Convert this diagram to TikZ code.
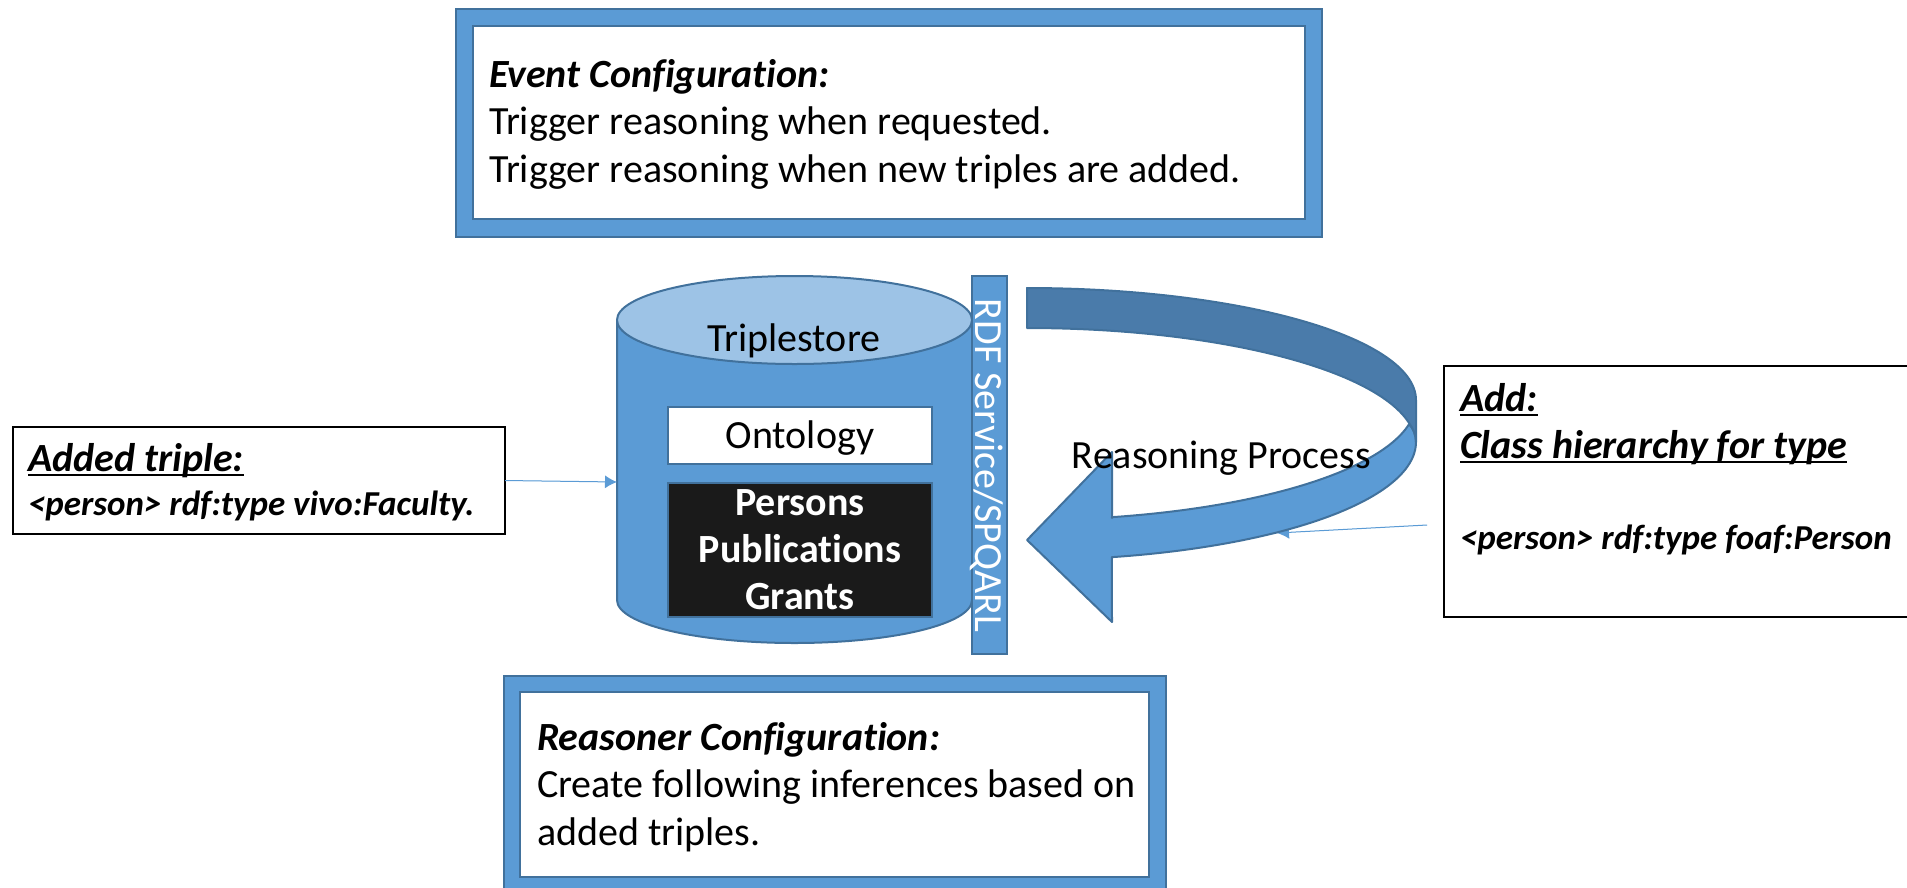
\documentclass[tikz,border=0pt]{standalone}
\usepackage{fontspec}
\setmainfont{Carlito}[Ligatures=NoCommon]
\usetikzlibrary{arrows.meta}
\definecolor{blueF}{HTML}{5B9BD5}
\definecolor{blueS}{HTML}{41719C}
\definecolor{blueL}{HTML}{9DC3E6}
\definecolor{blueD}{HTML}{4A7BAA}
\definecolor{nearblack}{HTML}{1A1A1A}
\newcommand\myul[1]{\setbox0\hbox{#1}\rlap{\rule[-5pt]{\wd0}{2.5pt}}\box0}
\newcommand\bodyfont{\fontsize{40}{47.5}\selectfont}
\newcommand\headfont{\fontsize{40}{47.5}\selectfont\bfseries\itshape}
\newcommand\smallfont{\fontsize{35}{42}\selectfont\bfseries\itshape}
\tikzset{
  x=1pt,y=-1pt,
  panel/.style={draw=blueS,line width=2pt,fill=blueF,inner sep=0pt,outer sep=0pt},
  pane/.style={draw=blueS,line width=2pt,fill=white,inner sep=0pt,outer sep=0pt},
  notebox/.style={draw=black,line width=2pt,fill=white,inner sep=0pt,outer sep=0pt},
  txt/.style={inner sep=0pt,outer sep=0pt,anchor=base west,font=\bodyfont},
  para/.style={inner sep=0pt,outer sep=0pt,anchor=north west,align=left,font=\bodyfont},
  link/.style={draw=blueF,line width=1pt,-{Latex[length=12pt,width=13pt]},fill=blueF},
  shapeline/.style={draw=blueS,line width=2pt,line join=round},
}
\begin{document}
\begin{tikzpicture}
\useasboundingbox (0,0) rectangle (1907,887);
\clip (0,0) rectangle (1907,887);

% event panel
\node[panel,minimum width=866pt,minimum height=228pt] (eventouter) at (889,122.5) {};
\node[pane,minimum width=832pt,minimum height=193pt] (eventinner) at (889,122.5) {};
\node[para] (eventtext) at (489,59) {{\bfseries\itshape Event Configuration:}\\Trigger reasoning when requested.\\Trigger reasoning when new triples are added.};

% reasoner panel
\node[panel,minimum width=662pt,minimum height=240pt] (reasonouter) at (834.5,796) {};
\node[pane,minimum width=629pt,minimum height=185pt] (reasoninner) at (834.5,784.5) {};
\node[para] (reasontext) at (537,722) {{\bfseries\itshape Reasoner Configuration:}\\Create following inferences based on\\added triples.};

% cylinder
\draw[shapeline,fill=blueF] (617,320) -- (617,600)
  .. controls (617,624) and (696,643) .. (794.5,643)
  .. controls (893,643) and (972,624) .. (972,600) -- (972,320) -- cycle;
\draw[shapeline,fill=blueL] (794.5,320) ellipse [x radius=177.5,y radius=44];
\coordinate (cylwest) at (617,482);
\node[txt,anchor=base] (triple) at (794,351) {Triplestore};
\node[pane,minimum width=264pt,minimum height=57pt] (onto) at (800,435.5) {};
\node[txt,anchor=base] (ontotext) at (800,448) {Ontology};
\node[panel,fill=nearblack,minimum width=264pt,minimum height=134pt] (data) at (800,550) {};
\node[txt,anchor=base,text=white,font=\bodyfont\bfseries] (t1) at (800,515) {Persons};
\node[txt,anchor=base,text=white,font=\bodyfont\bfseries] (t2) at (800,562) {Publications};
\node[txt,anchor=base,text=white,font=\bodyfont\bfseries] (t3) at (800,609) {Grants};

% service bar
\node[panel,minimum width=35pt,minimum height=378pt] (bar) at (989.5,465) {};
\node[txt,anchor=base,rotate=-90,text=white] (bartext) at (975,465.5) {RDF Service/SPQARL};

% added triple note
\node[notebox,minimum width=492pt,minimum height=107pt] (added) at (259,480.5) {};
\node[txt,font=\headfont] (addedh) at (28,471) {\myul{Added triple:}};
\node[txt,font=\smallfont] (addedb) at (28,515) {<person> rdf:type vivo:Faculty.};
\draw[link] (added.east) -- (cylwest);

% add note
\node[notebox,minimum width=480pt,minimum height=251pt] (addbox) at (1684,491.5) {};
\node[txt,font=\headfont] (addh) at (1460,411) {\myul{Add:}};
\node[txt,font=\headfont] (addc) at (1460,458) {\myul{Class hierarchy for type}};
\node[txt,font=\smallfont] (addb) at (1460,549) {<person> rdf:type foaf:Person};
\coordinate (addfrom) at (1427,525);
\coordinate (addto) at (1277,533);
\draw[link] (addfrom) -- (addto);

% curved arrow: lower band and head
\draw[shapeline,fill=blueF] (1409,424.3) .. controls (1413,428) and (1416,435) .. (1416,442)
  -- plot[domain=0:77.4,samples=60,variable=\t] ({1027+389*cos(\t)},{442+118*sin(\t)})
  -- (1112,622) -- (1027,540) -- (1112,452) -- (1112,518)
  -- plot[domain=77.4:10.9,samples=60,variable=\t] ({1027+389*cos(\t)},{402+118*sin(\t)}) -- cycle;
% curved arrow: upper band
\draw[shapeline,fill=blueD] (1027,288)
  -- plot[domain=90:0,samples=60,variable=\t] ({1027+389*cos(\t)},{400-112*sin(\t)})
  -- (1416,442) .. controls (1416,435) and (1413,428) .. (1409,423)
  -- plot[domain=10.9:90,samples=60,variable=\t] ({1027+389*cos(\t)},{445-117*sin(\t)}) -- cycle;
\node[txt,anchor=base] (reasoning) at (1221.5,468) {Reasoning Process};
\end{tikzpicture}
\end{document}
